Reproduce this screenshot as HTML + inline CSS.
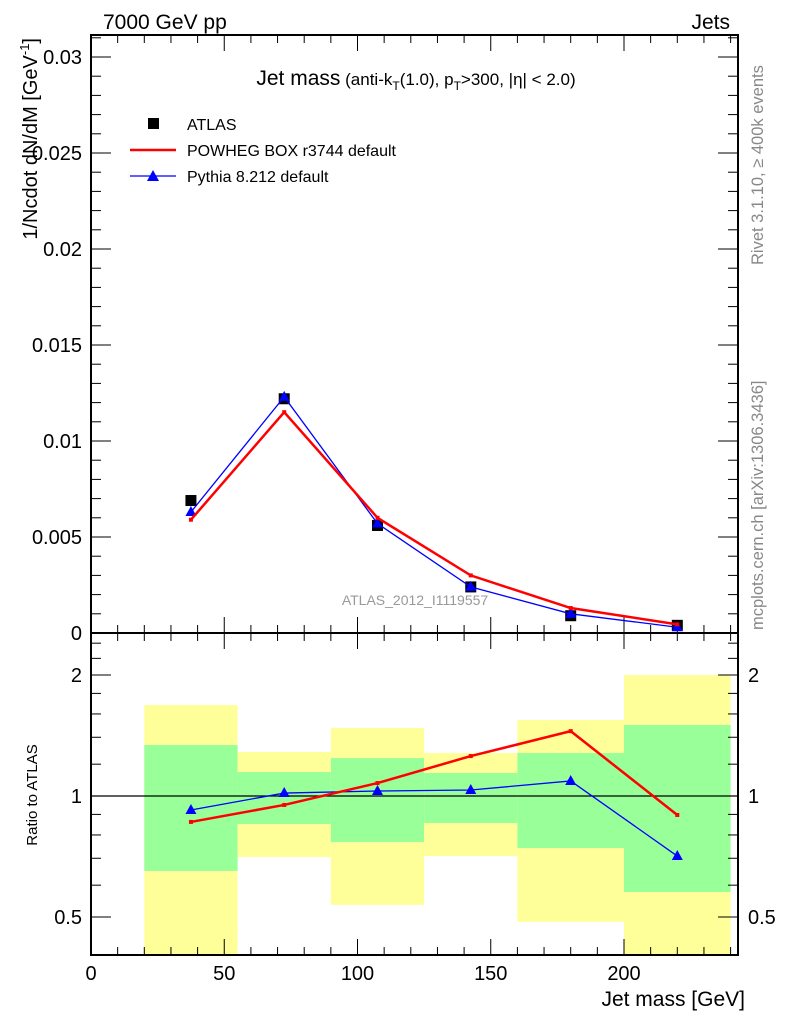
<!DOCTYPE html>
<html><head><meta charset="utf-8"><style>
body{margin:0;background:#fff;}
svg{display:block;font-family:"Liberation Sans",sans-serif;}
</style></head><body>
<svg id="c" width="786" height="1024" viewBox="0 0 786 1024">
<g id="bands"></g>
<g id="axes"></g>
<g id="series"></g>
<text x="103" y="29" font-size="21">7000 GeV pp</text>
<text x="730" y="29" font-size="21" text-anchor="end">Jets</text>
<text x="416" y="85" font-size="21" text-anchor="middle">Jet mass<tspan font-size="17"> (anti-k</tspan><tspan font-size="12" dy="5">T</tspan><tspan font-size="17" dy="-5">(1.0), p</tspan><tspan font-size="12" dy="5">T</tspan><tspan font-size="17" dy="-5">&gt;300, |η| &lt; 2.0)</tspan></text>
<rect x="148" y="118" width="11" height="11" fill="#000"/>
<text x="187" y="130" font-size="16">ATLAS</text>
<line x1="130" y1="150" x2="176" y2="150" stroke="#f00" stroke-width="2.5"/>
<text x="187" y="156" font-size="16">POWHEG BOX r3744 default</text>
<line x1="130" y1="176" x2="176" y2="176" stroke="#00f" stroke-width="1.2"/>
<polygon points="153,170 147,181 159,181" fill="#00f"/>
<text x="187" y="182" font-size="16">Pythia 8.212 default</text>
<text x="415" y="605" font-size="14" fill="#999" text-anchor="middle">ATLAS_2012_I1119557</text>
<text transform="translate(763,265) rotate(-90)" font-size="16.5" fill="#888">Rivet 3.1.10, ≥ 400k events</text>
<text transform="translate(763,630) rotate(-90)" font-size="16.5" fill="#888">mcplots.cern.ch [arXiv:1306.3436]</text>
<text transform="translate(37,38) rotate(-90)" font-size="20" text-anchor="end">1/Ncdot dN/dM [GeV<tspan font-size="13" dy="-8">-1</tspan><tspan dy="8">]</tspan></text>
<text transform="translate(37,795) rotate(-90)" font-size="15" text-anchor="middle">Ratio to ATLAS</text>
<text x="745" y="1006" font-size="21" text-anchor="end">Jet mass [GeV]</text>
</svg>
<script>
const binEdges=[20,55,90,125,160,200,240];
const xPoints=[37.5,72.5,107.5,142.5,180,220];
const atlas=[0.0069,0.0122,0.0056,0.0024,0.0009,0.0004];
const powheg=[0.0059,0.0115,0.0060,0.0030,0.0013,0.00045];
const pythia=[0.0063,0.0123,0.0057,0.0024,0.0010,0.0003];
const ratioPowheg=[0.862,0.95,1.077,1.257,1.45,0.897];
const ratioPythia=[0.923,1.017,1.029,1.035,1.09,0.709];
const yellowHi=[1.684,1.287,1.476,1.279,1.546,2.0];
const yellowLo=[0.3,0.705,0.536,0.709,0.486,0.3];
const greenHi=[1.339,1.147,1.243,1.141,1.279,1.502];
const greenLo=[0.651,0.852,0.768,0.857,0.742,0.577];
const mainTicks=["0","0.005","0.01","0.015","0.02","0.025","0.03"];
const xTicks=["0","50","100","150","200"];
const ratioTicks=["0.5","1","2"];

const NS="http://www.w3.org/2000/svg";
const L=91,R=738,T1=35,B1=633,T2=633,B2=955;
const XMAX=(R-L)/2.665;
const X=v=>L+v*2.665;
const Y=v=>B1-v*19200;
const YR=r=>Math.min(B2,Math.max(T2,796-121*Math.log2(r)));
function mk(tag,attrs,parent){const e=document.createElementNS(NS,tag);for(const k in attrs)e.setAttribute(k,attrs[k]);document.getElementById(parent).appendChild(e);return e;}

for(let i=0;i<binEdges.length-1;i++){
 const x0=X(binEdges[i]),x1=X(binEdges[i+1]);
 const y=mk('rect',{x:x0,y:YR(yellowHi[i]),width:x1-x0,height:YR(yellowLo[i])-YR(yellowHi[i]),fill:'#ffff99'},'bands');
 
 
 const g=mk('rect',{x:x0,y:YR(greenHi[i]),width:x1-x0,height:YR(greenLo[i])-YR(greenHi[i]),fill:'#99ff99'},'bands');
 
 
}
const f1=mk('rect',{x:L,y:T1,width:R-L,height:B1-T1,fill:'none',stroke:'#000','stroke-width':2},'axes');


const f2=mk('rect',{x:L,y:T2,width:R-L,height:B2-T2,fill:'none',stroke:'#000','stroke-width':2},'axes');


const one=mk('line',{x1:L,x2:R,y1:YR(1),y2:YR(1),stroke:'#000','stroke-width':1.2},'axes');


for(let v=0;v<=XMAX;v+=10){
 const major=v%50===0,len=major?16:8;
 for(const [yb,yt] of [[B1,T1],[B2,T2]]){
  mk('line',{x1:X(v),x2:X(v),y1:yb,y2:yb-len,stroke:'#000'},'axes');
  mk('line',{x1:X(v),x2:X(v),y1:yt,y2:yt+len,stroke:'#000'},'axes');
 }
}
xTicks.forEach(s=>{const t=mk('text',{x:X(+s),y:980,'font-size':20,'text-anchor':'middle'},'axes');t.textContent=s;
 
 });
for(let k=0;k<=31;k++){const v=k*0.001,major=k%5===0,len=major?20:10;
 mk('line',{x1:L,x2:L+len,y1:Y(v),y2:Y(v),stroke:'#000'},'axes');
 mk('line',{x1:R,x2:R-len,y1:Y(v),y2:Y(v),stroke:'#000'},'axes');}
mainTicks.forEach(s=>{const t=mk('text',{x:82,y:Y(+s)+7,'font-size':20,'text-anchor':'end'},'axes');t.textContent=s;
 
 });
[0.4,0.5,0.6,0.7,0.8,0.9,1,1.2,1.4,1.6,1.8,2,2.2,2.4].forEach(r=>{const major=(r===0.5||r===1||r===2),len=major?20:10;const y=YR(r);
 mk('line',{x1:L,x2:L+len,y1:y,y2:y,stroke:'#000'},'axes');
 mk('line',{x1:R,x2:R-len,y1:y,y2:y,stroke:'#000'},'axes');});
ratioTicks.forEach(s=>{
 const a=mk('text',{x:82,y:YR(+s)+7,'font-size':20,'text-anchor':'end'},'axes');a.textContent=s;
 
 
 const b=mk('text',{x:748,y:YR(+s)+7,'font-size':20},'axes');b.textContent=s;
 
 });
function line(vals,yf,color,w,name){const p=mk('polyline',{points:vals.map((v,i)=>X(xPoints[i])+','+yf(v)).join(' '),fill:'none',stroke:color,'stroke-width':w},'series');
 
 }
function tris(vals,yf,name){vals.forEach((v,i)=>{const x=X(xPoints[i]),y=yf(v);
 const t=mk('polygon',{points:`${x},${y-6} ${x-5.5},${y+4} ${x+5.5},${y+4}`,fill:'#00f'},'series');
 
 });}
function dots(vals,yf,name){vals.forEach((v,i)=>{const d=mk('rect',{x:X(xPoints[i])-2,y:yf(v)-2,width:4,height:4,fill:'#f00'},'series');
 
 });}
atlas.forEach((v,i)=>{const s=mk('rect',{x:X(xPoints[i])-5.5,y:Y(v)-5.5,width:11,height:11,fill:'#000'},'series');
 
 });
line(pythia,Y,'#00f',1.3,'pythia-line');
tris(pythia,Y,'pythia-point');
line(powheg,Y,'#f00',2.5,'powheg-line');
dots(powheg,Y,'powheg-point');
line(ratioPythia,YR,'#00f',1.3,'ratio-pythia-line');
tris(ratioPythia,YR,'ratio-pythia-point');
line(ratioPowheg,YR,'#f00',2.5,'ratio-powheg-line');
dots(ratioPowheg,YR,'ratio-powheg-point');
</script>
</body></html>
